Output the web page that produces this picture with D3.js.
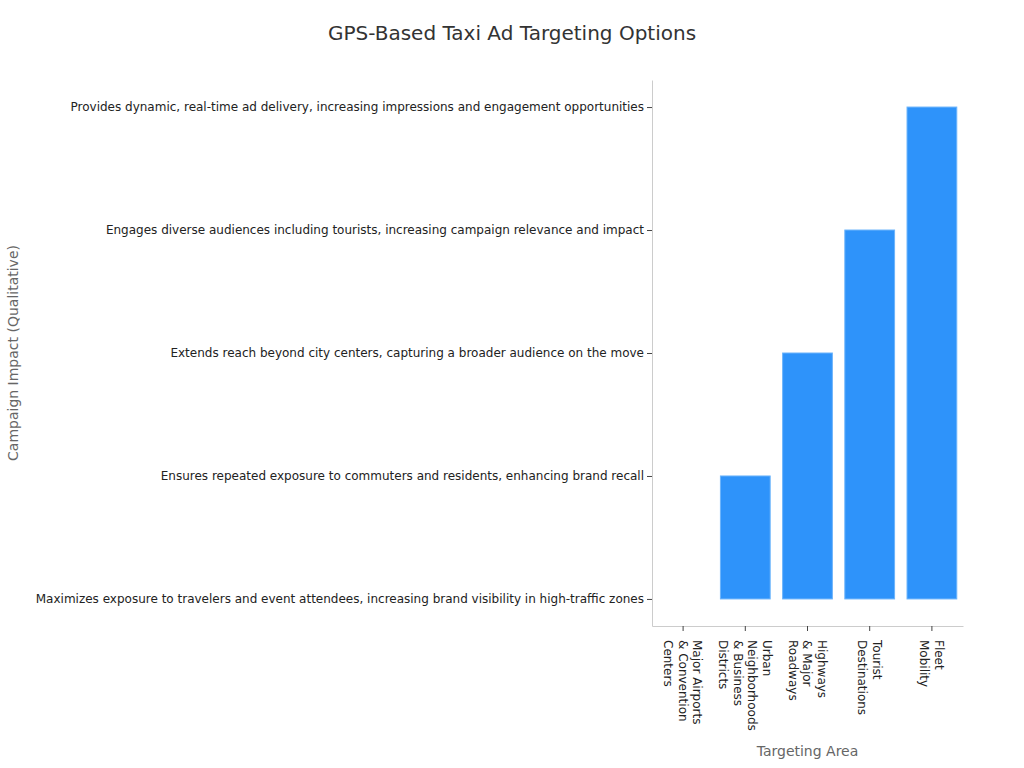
<!DOCTYPE html>
<html lang="en">
<head>
    <meta charset="UTF-8">
    <title>GPS-Based Taxi Ad Targeting Options</title>
    <style>
        body {
            margin: 0;
            background: #ffffff;
            font-family: "DejaVu Sans", sans-serif;
        }
    </style>
</head>
<body>
    <div class="vis"><svg width="1024" height="768"></svg></div>
    <script src="https://cdnjs.cloudflare.com/ajax/libs/d3/7.8.5/d3.min.js"></script>
    <script>
        var areas = [
            ["Major Airports", "& Convention", "Centers"],
            ["Urban", "Neighborhoods", "& Business", "Districts"],
            ["Highways", "& Major", "Roadways"],
            ["Tourist", "Destinations"],
            ["Fleet", "Mobility"]
        ];
        var impacts = [
            "Maximizes exposure to travelers and event attendees, increasing brand visibility in high-traffic zones",
            "Ensures repeated exposure to commuters and residents, enhancing brand recall",
            "Extends reach beyond city centers, capturing a broader audience on the move",
            "Engages diverse audiences including tourists, increasing campaign relevance and impact",
            "Provides dynamic, real-time ad delivery, increasing impressions and engagement opportunities"
        ];
        // impact level of each area, as an index into impacts
        var impactOfArea = [0, 1, 2, 3, 4];

        var svg = d3.select('.vis svg');
        var plotLeft = 652, plotRight = 963, plotTop = 80, plotBottom = 626;

        var xScale = d3.scaleBand()
            .domain(d3.range(areas.length))
            .range([plotLeft, plotRight])
            .paddingInner(0.2)
            .paddingOuter(0.1);

        var yScale = d3.scalePoint()
            .domain(impacts)
            .range([plotBottom, plotTop])
            .padding(0.22);

        // bars
        svg.selectAll('rect.bar')
            .data(impactOfArea)
            .enter()
            .append('rect')
            .attr('class', 'bar')
            .attr('x', (d, i) => xScale(i))
            .attr('width', xScale.bandwidth())
            .attr('y', d => yScale(impacts[d]))
            .attr('height', d => yScale(impacts[0]) - yScale(impacts[d]))
            .attr('fill', '#2e93fa')
            .attr('stroke', '#6cb4fb')
            .attr('stroke-width', 1);

        // y axis
        var yAxis = svg.append('g')
            .attr('transform', `translate(${plotLeft},0)`)
            .call(d3.axisLeft(yScale).tickSize(5).tickSizeOuter(0));
        yAxis.select('.domain').attr('stroke', '#cccccc');
        yAxis.selectAll('.tick line').attr('stroke', '#444444');
        yAxis.selectAll('.tick text')
            .attr('font-family', 'DejaVu Sans')
            .attr('font-size', 12)
            .attr('fill', '#222222')
            .attr('x', -8);

        // x axis
        var xAxis = svg.append('g')
            .attr('transform', `translate(0,${plotBottom})`)
            .call(d3.axisBottom(xScale).tickSize(5).tickSizeOuter(0).tickFormat(''));
        xAxis.select('.domain').attr('stroke', '#cccccc');
        xAxis.selectAll('.tick line').attr('stroke', '#444444');

        var lineH = 14.5;
        xAxis.selectAll('.tick').each(function (d) {
            var lines = areas[d];
            var t = d3.select(this).append('text')
                .attr('transform', 'translate(0,14) rotate(90)')
                .attr('font-family', 'DejaVu Sans')
                .attr('font-size', 12)
                .attr('fill', '#222222')
                .attr('text-anchor', 'start');
            lines.forEach(function (s, k) {
                t.append('tspan')
                    .attr('x', 0)
                    .attr('y', (k - (lines.length - 1) / 2) * lineH)
                    .attr('dy', '0.35em')
                    .text(s);
            });
        });

        // titles
        svg.append('text')
            .attr('x', 512)
            .attr('y', 40)
            .attr('text-anchor', 'middle')
            .attr('font-family', 'DejaVu Sans')
            .attr('font-size', 20)
            .attr('fill', '#333333')
            .text('GPS-Based Taxi Ad Targeting Options');

        svg.append('text')
            .attr('x', (plotLeft + plotRight) / 2)
            .attr('y', 756)
            .attr('text-anchor', 'middle')
            .attr('font-family', 'DejaVu Sans')
            .attr('font-size', 14)
            .attr('fill', '#666666')
            .text('Targeting Area');

        svg.append('text')
            .attr('transform', `translate(18,${(plotTop + plotBottom) / 2}) rotate(-90)`)
            .attr('text-anchor', 'middle')
            .attr('font-family', 'DejaVu Sans')
            .attr('font-size', 14)
            .attr('fill', '#666666')
            .text('Campaign Impact (Qualitative)');
    </script>
</body>
</html>
